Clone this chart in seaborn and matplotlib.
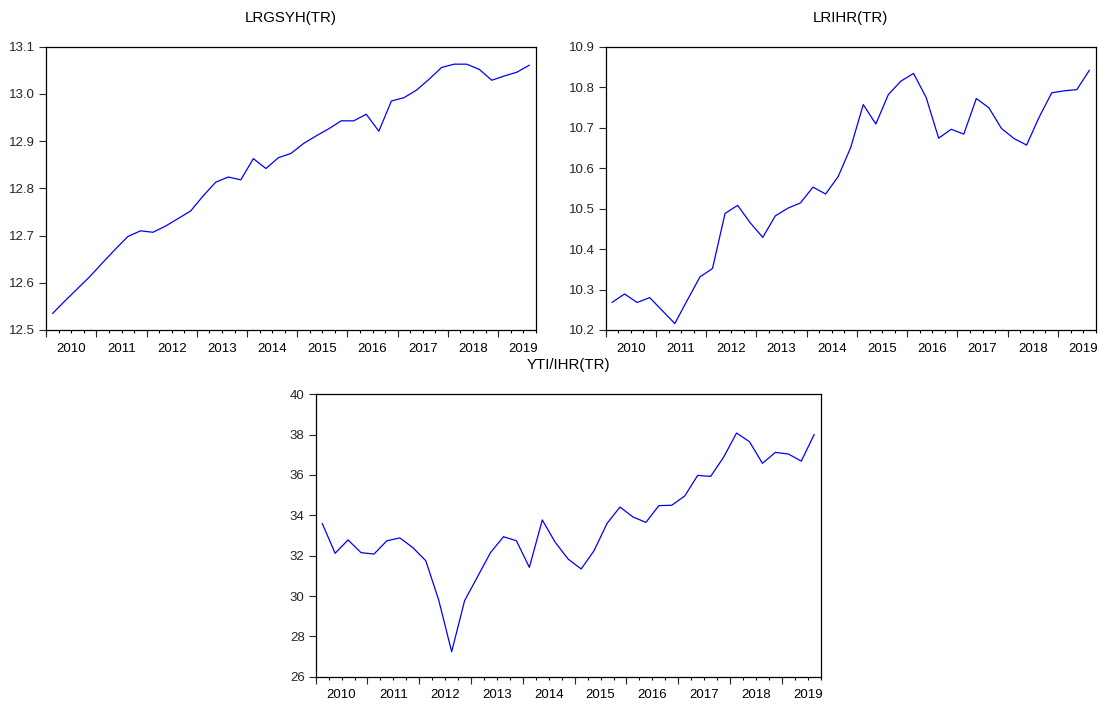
import matplotlib
matplotlib.use("Agg")
import matplotlib.pyplot as plt
import seaborn as sns
import numpy as np
import pandas as pd
from matplotlib.ticker import FixedLocator, FormatStrFormatter

# Quarterly data, 2010Q1 .. 2019Q3
years = [2010, 2011, 2012, 2013, 2014, 2015, 2016, 2017, 2018, 2019]
quarters = [f"{y}Q{q}" for y in years for q in range(1, 5)][:39]

lrgsyh = [12.535, 12.562, 12.588, 12.614, 12.643, 12.671, 12.698, 12.710,
          12.707, 12.720, 12.736, 12.752, 12.784, 12.813, 12.824, 12.818,
          12.863, 12.842, 12.865, 12.874, 12.895, 12.911, 12.926, 12.943,
          12.943, 12.957, 12.921, 12.985, 12.992, 13.008, 13.031, 13.056,
          13.063, 13.063, 13.052, 13.029, 13.038, 13.046, 13.061]

lrihr = [10.268, 10.289, 10.268, 10.280, 10.248, 10.216, 10.274, 10.331,
         10.352, 10.488, 10.508, 10.465, 10.429, 10.482, 10.501, 10.514,
         10.553, 10.536, 10.579, 10.651, 10.757, 10.709, 10.782, 10.815,
         10.834, 10.775, 10.674, 10.696, 10.684, 10.772, 10.749, 10.698,
         10.673, 10.657, 10.726, 10.786, 10.791, 10.794, 10.842]

yti_ihr = [33.60, 32.12, 32.78, 32.15, 32.08, 32.74, 32.88, 32.40,
           31.75, 29.80, 27.24, 29.77, 30.96, 32.15, 32.94, 32.74,
           31.42, 33.77, 32.66, 31.83, 31.34, 32.25, 33.60, 34.41,
           33.92, 33.65, 34.48, 34.50, 34.96, 35.98, 35.93, 36.88,
           38.08, 37.65, 36.58, 37.12, 37.04, 36.69, 38.01]

titles = ["LRGSYH(TR)", "LRIHR(TR)", "YTI/IHR(TR)"]
yticks_1 = [12.5, 12.6, 12.7, 12.8, 12.9, 13.0, 13.1]
yticks_2 = [10.2, 10.3, 10.4, 10.5, 10.6, 10.7, 10.8, 10.9]
yticks_3 = [26, 28, 30, 32, 34, 36, 38, 40]
year_labels = [str(y) for y in years]

sns.set_style("white")
plt.rcParams['font.family'] = ['Liberation Sans', 'DejaVu Sans']

W, H = 1108, 705
fig = plt.figure(figsize=(W / 100, H / 100), dpi=100)


def add_ax(left, right, top, bottom):
    return fig.add_axes([left / W, 1 - bottom / H, (right - left) / W, (bottom - top) / H])


axes = [add_ax(46.3, 535.7, 46.7, 330), add_ax(605.7, 1095.7, 46.7, 330),
        add_ax(315.7, 820.7, 394.3, 676.7)]
series = [lrgsyh, lrihr, yti_ihr]
yticks_all = [yticks_1, yticks_2, yticks_3]
fmts = ["%.1f", "%.1f", "%d"]

n = len(quarters)
for ax, vals, ttl, yt, fmt in zip(axes, series, titles, yticks_all, fmts):
    df = pd.DataFrame({"pos": np.arange(n) + 0.5, "value": vals, "quarter": quarters})
    sns.lineplot(data=df, x="pos", y="value", ax=ax, color="#0000ff", linewidth=0.9)
    ax.set_xlim(0, n)
    ax.set_ylim(yt[0], yt[-1])
    ax.set_yticks(yt)
    ax.yaxis.set_major_formatter(FormatStrFormatter(fmt))
    # quarter ticks, labels in the middle of each year
    qpos = list(range(0, n + 1))
    labels = [""] * len(qpos)
    for k, yl in enumerate(year_labels):
        p = 4 * k + 2
        if p < len(labels):
            labels[p] = yl
    ax.set_xticks(qpos)
    ax.set_xticklabels(labels)
    ax.xaxis.remove_overlapping_locs = False
    ax.xaxis.set_minor_locator(FixedLocator(list(range(0, n + 1, 4))))
    ax.tick_params(axis="x", which="major", length=2.5, width=0.8, direction="out",
                   pad=6.5, labelsize=9.5, colors="black", bottom=True, top=False)
    ax.tick_params(axis="x", which="minor", length=5, width=0.8, direction="out",
                   bottom=True, top=False)
    ax.tick_params(axis="y", which="major", length=5, width=0.8, direction="out",
                   pad=3, labelsize=9.5, left=True, right=False)
    for lab in ax.get_xticklabels():
        lab.set_clip_on(False)
    for s in ax.spines.values():
        s.set_visible(True)
        s.set_color("black")
        s.set_linewidth(0.9)
    ax.set_xlabel("")
    ax.set_ylabel("")
    ax.set_title(ttl, fontsize=10.8, pad=18, color="black")
    ax.set_facecolor("white")

fig.savefig("out.png", dpi=100, facecolor="white")
